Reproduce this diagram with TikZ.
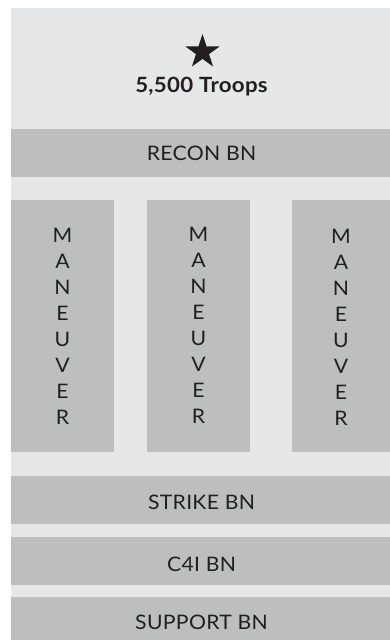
\documentclass[tikz,border=0pt]{standalone}
\usepackage{fontspec}
\setmainfont[FakeStretch=1.06, LetterSpace=1.5]{Lato}
\usetikzlibrary{shapes.geometric}
\definecolor{bgc}{HTML}{E6E7E8}
\definecolor{barc}{HTML}{BCBEC0}
\definecolor{ink}{HTML}{231F20}
\begin{document}
\begin{tikzpicture}[x=1pt,y=-1pt,
  box/.style={fill=barc, draw=none, inner sep=0pt, outer sep=0pt, anchor=north west},
  lbl/.style={font=\fontsize{20}{26}\selectfont, text=ink, inner sep=0pt, text height=14.3pt, text depth=0pt},
  mlbl/.style={font=\fontsize{20}{26}\selectfont, text=ink, inner sep=0pt, align=center, anchor=north},
  ttl/.style={font=\bfseries\fontsize{21}{24}\selectfont, text=ink, inner sep=0pt, text height=15pt, text depth=0pt}]
\useasboundingbox (0,0) rectangle (390,640);
\node[box, fill=bgc, minimum width=379pt, minimum height=632pt] (bg) at (11,8) {};
\node[star, star points=5, star point ratio=2.618, minimum size=36pt, inner sep=0pt, fill=ink] (star) at (202.5,52) {};
\node[ttl] (troops) at (201.5,84.8) {5,500 Troops};
\node[box, minimum width=379pt, minimum height=48pt] (recon) at (11,129) {};
\node[lbl] (recont) at (201.5,153.7) {RECON BN};
\node[box, minimum width=103pt, minimum height=252pt] (m1) at (11,200) {};
\node[box, minimum width=103pt, minimum height=252pt] (m2) at (147,200) {};
\node[box, minimum width=98pt, minimum height=252pt] (m3) at (292,200) {};
\node[mlbl] (m1t) at (62.5,228) {M\\A\\N\\E\\U\\V\\E\\R};
\node[mlbl] (m2t) at (198.5,227) {M\\A\\N\\E\\U\\V\\E\\R};
\node[mlbl] (m3t) at (341,229) {M\\A\\N\\E\\U\\V\\E\\R};
\node[box, minimum width=379pt, minimum height=48pt] (strike) at (11,476) {};
\node[lbl] (striket) at (201.5,502) {STRIKE BN};
\node[box, minimum width=379pt, minimum height=48pt] (c4i) at (11,537) {};
\node[lbl] (c4it) at (201.5,564.5) {C4I BN};
\node[box, minimum width=379pt, minimum height=43pt] (support) at (11,597) {};
\node[lbl] (supportt) at (201.5,622.5) {SUPPORT BN};
\end{tikzpicture}
\end{document}
